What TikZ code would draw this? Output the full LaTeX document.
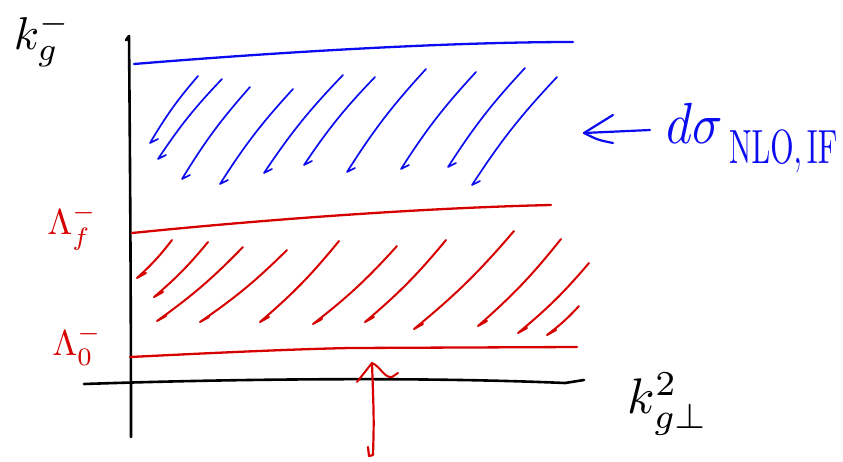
\documentclass[tikz,border=0pt]{standalone}
\definecolor{penblue}{RGB}{12,12,240}
\definecolor{penred}{RGB}{214,0,0}
\tikzset{
  axisline/.style={black,line width=2.6pt},
  blueline/.style={penblue,line width=2.3pt},
  redline/.style={penred,line width=2.3pt},
  bluehatch/.style={penblue,line width=1.7pt},
  redhatch/.style={penred,line width=2pt},
  lbl/.style={inner sep=0pt,outer sep=0pt},
}
\begin{document}
\begin{tikzpicture}[x=1pt,y=-1pt,line cap=round,line join=round]
\useasboundingbox (0,0) rectangle (843,461);
% axes
\draw[axisline] (126,40) -- (129,36) .. controls (130,150) and (131,300) .. (131,437);
\draw[axisline] (84,384) .. controls (200,380) and (400,376) .. (565,383) -- (584,380);
% blue upper boundary
\draw[blueline] (134,64) .. controls (280,52) and (450,42) .. (573,42);
% red boundaries
\draw[redline] (132,233) .. controls (260,220) and (420,208) .. (551,205);
\draw[redline] (130,357) .. controls (230,352) and (300,349) .. (350,348) -- (577,347);
% blue hatching
\foreach \a/\b/\c/\d in {198/76/150/143, 222/79/158/159, 250/87/182/179, 293/89/220/184,
  343/75/264/173, 375/77/304/165, 426/69/347/172, 476/72/401/169, 525/68/448/167, 557/77/472/185}
  {\draw[bluehatch] (\a,\b) to[bend right=5] (\c,\d) -- ++(8,-4);}
% red hatching
\foreach \a/\b/\c/\d in {172/240/137/278, 208/242/154/297, 243/247/157/321, 287/250/200/322,
  339/241/260/322, 397/246/313/324, 446/240/365/322, 514/231/414/329, 561/239/478/326,
  589/263/518/333, 579/306/547/335}
  {\draw[redhatch] (\a,\b) to[bend left=5] (\c,\d) -- ++(9,-5);}
% blue arrow
\coordinate (btail) at (650,130);
\coordinate (btip) at (584,133);
\draw[penblue,line width=2.2pt] (btail) -- (btip);
\draw[penblue,line width=2.2pt] (613,115) .. controls (600,123) .. (btip) .. controls (598,140) .. (613,143);
% red arrow
\coordinate (rtail) at (373,455);
\coordinate (rtip) at (372,363);
\draw[penred,line width=2.2pt] (368,447) -- (369,456) -- (rtail) .. controls (374,420) .. (rtip);
\draw[penred,line width=2pt] (357,382) -- (rtip) .. controls (380,366) and (384,378) .. (392,377) -- (398,373);
% labels
\node[lbl,black] (kg) at (42,40) {\scalebox{4.6}{$k_g^-$}};
\node[lbl,penred] (lf) at (72,227) {\scalebox{3.6}{$\Lambda_f^-$}};
\node[lbl,penred] (l0) at (77,345) {\scalebox{3.6}{$\Lambda_0^-$}};
\node[lbl,black] (kperp) at (668,404) {\scalebox{5}{$k_{g\perp}^2$}};
\node[lbl,penblue,anchor=base west] (sigma) at (666,143) {\scalebox{5}[5.8]{$d\sigma$}};
\node[lbl,penblue,anchor=base west] (sub) at (729,163) {\scalebox{3.0}[4.8]{$\mathrm{NLO,IF}$}};
\end{tikzpicture}
\end{document}
